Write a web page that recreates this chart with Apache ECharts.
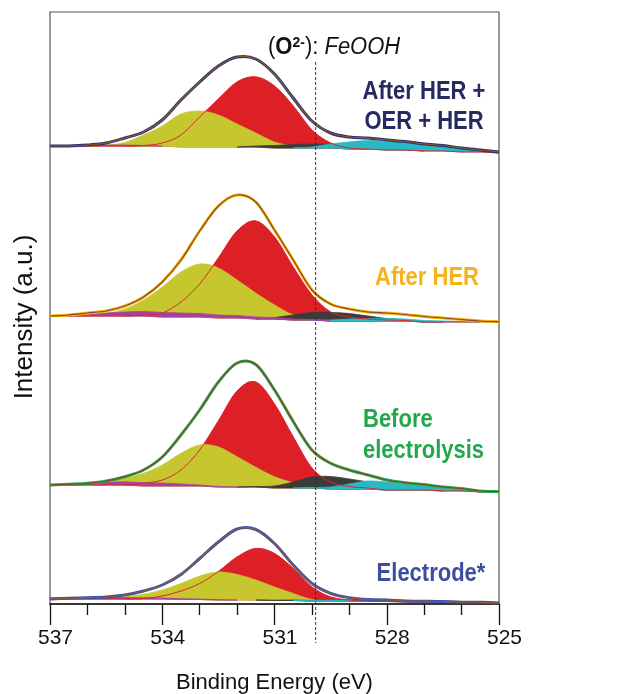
<!DOCTYPE html>
<html><head><meta charset="utf-8">
<script src="https://cdn.jsdelivr.net/npm/echarts@6/dist/echarts.min.js"></script>
<style>html,body{margin:0;padding:0;background:#fff}#c{width:618px;height:694px}</style>
</head><body><div id="c"></div><script>
// Binding energies (eV), sampled every 0.5 eV
const energies = [537,536.5,536,535.5,535,534.5,534,533.5,533,532.5,532,531.5,531,530.5,530,529.5,529,528.5,528,527.5,527,526.5,526,525.5,525];
const xTicks = [525,528,531,534,537];
const feoohEnergy = 529.9;

// Panel 1: After HER + OER + HER (background offset, then component heights above it)
const bg1 = [458,458,458,458,458,458,458,457,457,457,457,457,456,456,456,456,455,455,454,454,453,453,452,452,451];
const env1 = [0,0,1,3,8,14,26,47,65,81,90,88,74,50,27,15,12,11,10,8.5,7,5.5,4,2,1];
const yellow1 = [0,0,0,1,3.5,11,20,33,36,32,23,14,6,2,0.5,0,0,0,0,0,0,0,0,0,0];
const red1 = [0,0,0,0,0,0.5,3,12,30,48,65,70,62,42,18,5,1,0,0,0,0,0,0,0,0];
const black1 = [0,0,0,0,0,0,0,0,0,0,0,1,2.5,3.5,4,3.5,2.5,1.5,1,0.5,0,0,0,0,0];
const cyan1 = [0,0,0,0,0,0,0,0,0,0,0,0,0,0,1,4,7,8.5,8.5,7.5,6,4.5,3,1.5,0.5];
const magenta1 = [0,0.5,1,1,1,0.5,0,0,0,0,0,0,0,0,0,0,0,0,0,0,0,0,0,0,0];

// Panel 2: After HER
const bg2 = [288,288,288,288,288,288,287,287,287,286,286,285,285,284,284,283,283,283,283,283,282,282,282,282,282];
const env2 = [0,1,3,5,10,19,35,57,86,112,123,117,89,60,30,17,12,9,8,6.5,5.5,4,2.5,1,0.3];
const yellow2 = [0,0,0.5,2.5,7,16,30,45,53,50,38,26,14,5,1,0,0,0,0,0,0,0,0,0,0];
const red2 = [0,0,0,0,0,1,4,15,33,60,87,98,82,53,25,9,4,2,1,0.5,0,0,0,0,0];
const black2 = [0,0,0,0,0,0,0,0,0,0,0,0,1.5,5,7.5,8.5,7.5,5,2.5,1,0.3,0,0,0,0];
const cyan2 = [0,0,0,0,0,0,0,0,0,0,0,0,0,0,0,1,2,2.5,2.5,2,1.5,1,0.3,0,0];
const magenta2 = [0,0.5,1.5,3,4,4.5,4.5,4,3.5,3,2.5,2,1.5,1,0.5,0,0,0,0,0,0,0,0,0,0];

// Panel 3: Before electrolysis
const bg3 = [119,119,119,119,119,118,118,118,118,117,117,117,116,116,116,115,115,115,114,114,114,113,113,112,112];
const env3 = [0,0.7,1.7,4,8.3,16,29,51,76,105,124,122.5,98,66.5,38,25.7,19,14,10,7.3,5.5,4,2.5,1,0.3];
const yellow3 = [0,0,1.7,3.3,6.7,12.7,21,32.7,41,40,30.3,19.7,11.3,5.3,1.5,0,0,0,0,0,0,0,0,0,0];
const red3 = [0,0,0,0,0,2.7,6,16,36,66,96,105,84,51,20,7,2.5,1,0,0,0,0,0,0,0];
const black3 = [0,0,0,0,0,0,0,0,0,0,0,0.5,2,6,11,12.5,10,7,4,2,1,0,0,0,0];
const cyan3 = [0,0,0,0,0,0,0,0,0,0,0,0,0,0,0.5,2,5,8,8,6.5,4.5,2.5,1,0.3,0];
const magenta3 = [0,0.5,1.5,2.5,3.2,3.3,3,2,1,0.5,0,0,0,0,0,0,0,0,0,0,0,0,0,0,0];

// Panel 4: Electrode*
const bg4 = [5,5,5,5,5,5,5,4.5,4.5,4,4,4,3.5,3.5,3,3,3,2.5,2.5,2,2,2,1.5,1.5,1];
const env4 = [0,0.7,1.3,2,4,8,14,25,41,58,71,70.5,57,35.5,17.5,7.7,3.3,2,1.5,1,0.8,0.5,0.3,0.2,0];
const yellow4 = [0,0,0,0.7,2,4.7,9,16,23.5,28,25.5,20,13.5,7,1.5,0,0,0,0,0,0,0,0,0,0];
const red4 = [0,0,0,0,0,0.5,3,8.5,16,28.5,43,51.5,47,32,14,4,1,0.3,0,0,0,0,0,0,0];
const black4 = [0,0,0,0,0,0,0,0,0,0,0,0,0.3,0.5,0.6,0.5,0.3,0,0,0,0,0,0,0,0];
const cyan4 = [0,0,0,0,0,0,0,0,0,0,0,0,0,0,0.3,0.8,1.2,1.5,1.5,1.2,1,0.7,0.4,0,0];
const magenta4 = [1,1.5,1.5,1.5,1.5,1.2,1,0.8,0.5,0.3,0,0,0,0,0,0,0,0,0,0,0,0,0,0,0];

const panels = [
  {bg:bg1, env:env1, yellow:yellow1, red:red1, black:black1, cyan:cyan1, magenta:magenta1, outer:'#2b2f6e', inner:'#8a5a2c'},
  {bg:bg2, env:env2, yellow:yellow2, red:red2, black:black2, cyan:cyan2, magenta:magenta2, outer:'#f4b41c', inner:'#8b4a14'},
  {bg:bg3, env:env3, yellow:yellow3, red:red3, black:black3, cyan:cyan3, magenta:magenta3, outer:'#2fa84b', inner:'#7b4a2a'},
  {bg:bg4, env:env4, yellow:yellow4, red:red4, black:black4, cyan:cyan4, magenta:magenta4, outer:'#3e4fa5', inner:'#8b5a3c'}
];
const fills = {red:'#dd1f26', yellow:'#c6c72f', black:'#3b3b3b', cyan:'#27b9c6', magenta:'#a9409e'};

// draw list (order = paint order)
const drawItems = [];
panels.forEach(p=>{
  ['red','yellow','black','cyan','magenta'].forEach(k=>{
    drawItems.push({area:true, bg:p.bg, rel:p[k], fill:fills[k], stroke:fills[k], width:0.8});
  });
  drawItems.push({area:false, bg:p.bg, rel:p.red, stroke:'#e0262c', width:1});
  drawItems.push({area:false, bg:p.bg, rel:p.env, stroke:p.outer, width:3});
  drawItems.push({area:false, bg:p.bg, rel:p.env, stroke:p.inner, width:1.2});
});

function f(pt){ return pt[0].toFixed(2) + ' ' + pt[1].toFixed(2); }
function curvePath(api, it){
  const n = energies.length;
  let i0 = 0, i1 = n - 1;
  if (it.area) {
    let first = -1, last = -1;
    for (let i=0;i<n;i++) if (it.rel[i] > 0) { if (first < 0) first = i; last = i; }
    if (first < 0) return null;
    i0 = Math.max(0, first - 1); i1 = Math.min(n - 1, last + 1);
  }
  const idx = []; for (let i=i0;i<=i1;i++) idx.push(i);
  const P = idx.map(i => [energies[i], it.bg[i] + it.rel[i]]);
  let d = 'M' + f(api.coord(P[0]));
  for (let k=0;k<P.length-1;k++){
    const p0 = P[k-1] || P[k], p1 = P[k], p2 = P[k+1], p3 = P[k+2] || P[k+1];
    const c1 = [p1[0] + (p2[0]-p0[0])/6, p1[1] + (p2[1]-p0[1])/6];
    const c2 = [p2[0] - (p3[0]-p1[0])/6, p2[1] - (p3[1]-p1[1])/6];
    const ba = it.bg[idx[k]], bb = it.bg[idx[k+1]];
    c1[1] = Math.max(c1[1], ba + (bb-ba)/3);
    c2[1] = Math.max(c2[1], ba + (bb-ba)*2/3);
    d += 'C' + f(api.coord(c1)) + ' ' + f(api.coord(c2)) + ' ' + f(api.coord(p2));
  }
  if (it.area) {
    for (let k=idx.length-1;k>=0;k--) d += 'L' + f(api.coord([energies[idx[k]], it.bg[idx[k]]]));
    d += 'Z';
  }
  return d;
}

const series = [
  {type:'custom', data:drawItems.map((_, i)=>[531, 300, i]), silent:true, z:2,
    renderItem:(params, api)=>{
      const it = drawItems[params.dataIndex];
      const d = curvePath(api, it);
      if (!d) return null;
      return {type:'path', shape:{pathData:d},
        style: it.area ? {fill:it.fill, stroke:it.stroke, lineWidth:it.width}
                       : {fill:'none', stroke:it.stroke, lineWidth:it.width, lineJoin:'round'}};
    }},
  {type:'custom', data:[[feoohEnergy, 0]], clip:false, silent:true, z:6,
    renderItem:(params, api)=>{
      const a = api.coord([api.value(0), 542]);
      const b = api.coord([api.value(0), -39]);
      return {type:'line', shape:{x1:a[0], y1:a[1], x2:b[0], y2:b[1]}, style:{stroke:'#333', lineWidth:1, lineDash:[3,2]}};
    }}
];

const sans = "'Liberation Sans', Arial, sans-serif";
const bold = (t, x, y, color, align) => ({type:'text', x:x, y:y, scaleY:1.15, silent:true,
  style:{text:t, fill:color, font:"bold 22px " + sans, align:align||'center', verticalAlign:'middle'}});

const option = {
  animation:false,
  backgroundColor:'#fff',
  grid:{left:50, right:119, top:12, bottom:90, show:true, borderColor:'#555', borderWidth:1.2,
    containLabel:false, outerBoundsMode:'none'},
  xAxis:{type:'value', min:525, max:537, interval:3, inverse:true,
    axisLine:{show:true, lineStyle:{color:'#111', width:1.5}},
    axisTick:{show:true, length:21, lineStyle:{color:'#111', width:1.3}},
    minorTick:{show:true, splitNumber:3, length:11, lineStyle:{color:'#111', width:1.3}},
    splitLine:{show:false}, minorSplitLine:{show:false},
    axisLabel:{margin:24, fontSize:21, color:'#111', fontFamily:sans, padding:[0,0,0,11],
      formatter:v => xTicks.includes(v) ? String(v) : ''},
    name:'Binding Energy (eV)', nameLocation:'middle', nameGap:68,
    nameTextStyle:{fontSize:22, color:'#111', fontFamily:sans}
  },
  yAxis:{type:'value', min:0, max:592, axisLine:{show:false}, axisTick:{show:false}, axisLabel:{show:false}, splitLine:{show:false},
    name:'Intensity (a.u.)', nameLocation:'middle', nameGap:12,
    nameTextStyle:{fontSize:26, color:'#111', fontFamily:sans, padding:[0,18,0,0]}
  },
  graphic:[
    {type:'text', x:268, y:47, scaleY:1.1, silent:true, style:{
      text:'{n|(}{b|O}{s|2-}{n|): }{i|FeOOH}', verticalAlign:'middle', align:'left',
      rich:{
        n:{fontSize:22, fontFamily:sans, fill:'#111', color:'#111'},
        b:{fontSize:22, fontFamily:sans, fontWeight:'bold', fill:'#111', color:'#111'},
        s:{fontSize:14, fontFamily:sans, fontWeight:'bold', fill:'#111', color:'#111', verticalAlign:'top', lineHeight:14},
        i:{fontSize:22, fontFamily:sans, fontStyle:'italic', fill:'#111', color:'#111'}
      }}},
    bold('After HER +', 424, 92, '#252a62'),
    bold('OER + HER', 424, 122, '#252a62'),
    bold('After HER', 427, 278, '#f5b31b'),
    bold('Before', 363, 420, '#22a84b', 'left'),
    bold('electrolysis', 363, 451, '#22a84b', 'left'),
    bold('Electrode*', 431, 574, '#3c4ea3')
  ],
  series:series
};
const chart = echarts.init(document.getElementById('c'));
chart.setOption(option);
</script></body></html>
